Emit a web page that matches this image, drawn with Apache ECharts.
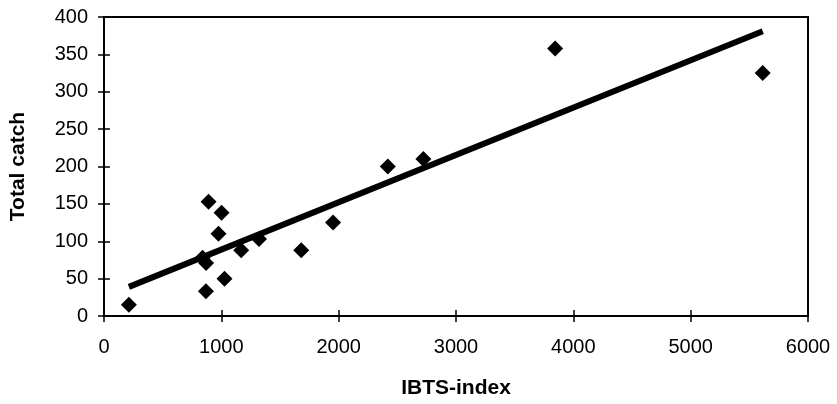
<!DOCTYPE html>
<html>
<head>
<meta charset="utf-8">
<script src="https://cdn.jsdelivr.net/npm/echarts@6/dist/echarts.min.js"></script>
<style>html,body{margin:0;padding:0;background:#fff}#c{width:837px;height:404px}</style>
</head>
<body>
<div id="c"></div>
<script>
var ibtsIndex = [212, 840, 870, 869, 891, 976, 1002, 1027, 1169, 1321, 1681, 1952, 2419, 2722, 3845, 5614];
var totalCatch = [15, 78, 71, 33, 153, 110, 138, 50, 88, 103, 88, 125, 200, 210, 358, 325];
var trendX = [212, 5614];
var trendY = [39, 381];
var xTicks = [0, 1000, 2000, 3000, 4000, 5000, 6000];
var yTicks = [0, 50, 100, 150, 200, 250, 300, 350, 400];

var pts = ibtsIndex.map(function (x, i) { return [x, totalCatch[i]]; });
var trend = trendX.map(function (x, i) { return [x, trendY[i]]; });
var font = 'Liberation Sans, Arial, sans-serif';
var plain = function (v) { return String(v); };

var chart = echarts.init(document.getElementById('c'));
chart.setOption({
  animation: false,
  backgroundColor: '#fff',
  grid: { left: 101, right: 29, top: 17, bottom: 87, show: true, borderColor: '#000', borderWidth: 2, backgroundColor: 'transparent' },
  xAxis: {
    type: 'value', min: xTicks[0], max: xTicks[xTicks.length - 1], interval: 1000,
    offset: -6,
    name: 'IBTS-index', nameLocation: 'middle', nameGap: 68,
    nameTextStyle: { fontFamily: font, fontWeight: 'bold', fontSize: 21, color: '#000' },
    axisLine: { show: false },
    axisTick: { show: true, inside: false, length: 12, lineStyle: { color: '#000', width: 1.5 } },
    axisLabel: { fontFamily: font, fontSize: 20, color: '#000', margin: 27, formatter: plain },
    splitLine: { show: false }
  },
  yAxis: {
    type: 'value', min: yTicks[0], max: yTicks[yTicks.length - 1], interval: 50,
    offset: -6,
    name: 'Total catch', nameLocation: 'middle', nameGap: 81,
    nameTextStyle: { fontFamily: font, fontWeight: 'bold', fontSize: 21, color: '#000' },
    axisLine: { show: false },
    axisTick: { show: true, inside: false, length: 12, lineStyle: { color: '#000', width: 1.5 } },
    axisLabel: { fontFamily: font, fontSize: 20, color: '#000', margin: 22, formatter: plain },
    splitLine: { show: false }
  },
  series: [{
    type: 'line', data: trend, symbol: 'none',
    lineStyle: { color: '#000', width: 6 }, z: 3
  }, {
    type: 'scatter', data: pts, symbol: 'diamond', symbolSize: 16,
    itemStyle: { color: '#000', opacity: 1 }, z: 4
  }]
});
</script>
</body>
</html>
